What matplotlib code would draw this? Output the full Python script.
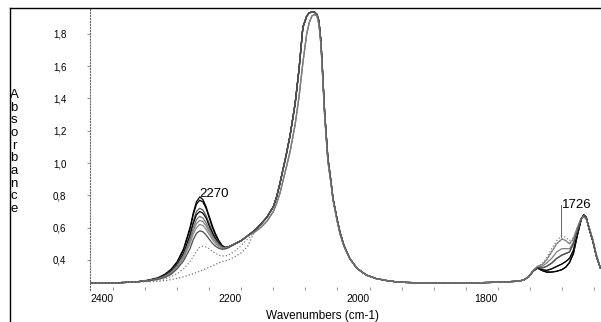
import matplotlib
matplotlib.use("Agg")
import matplotlib.pyplot as plt
from matplotlib.lines import Line2D
from matplotlib.ticker import MultipleLocator

plt.rcParams['font.family'] = ['Liberation Sans', 'DejaVu Sans']

# Baseline shared by every spectrum (cm-1 / absorbance)
wn_base = [2436, 2420, 2400, 2380, 2360]
a_base = [0.257, 0.257, 0.258, 0.261, 0.266]

# 2270 band region, one list per spectrum
wn_band = [2345, 2330, 2320, 2310, 2300, 2290, 2280, 2275, 2270, 2265, 2260,
           2255, 2250, 2245, 2240, 2235, 2230, 2225, 2220, 2210, 2200, 2190]
band_1 = [0.275, 0.29, 0.31, 0.34, 0.39, 0.47, 0.60, 0.69, 0.76, 0.79, 0.775,
          0.73, 0.67, 0.61, 0.56, 0.52, 0.49, 0.478, 0.482, 0.50, 0.52, 0.55]
band_2 = [0.274, 0.288, 0.305, 0.335, 0.385, 0.46, 0.59, 0.68, 0.745, 0.77, 0.76,
          0.72, 0.66, 0.60, 0.55, 0.515, 0.487, 0.477, 0.481, 0.50, 0.52, 0.55]
band_3 = [0.273, 0.286, 0.302, 0.33, 0.375, 0.445, 0.56, 0.64, 0.70, 0.72, 0.71,
          0.675, 0.625, 0.575, 0.535, 0.505, 0.483, 0.476, 0.48, 0.50, 0.52, 0.55]
band_4 = [0.273, 0.285, 0.30, 0.325, 0.37, 0.44, 0.55, 0.625, 0.68, 0.70, 0.69,
          0.66, 0.61, 0.565, 0.53, 0.50, 0.48, 0.475, 0.48, 0.50, 0.52, 0.55]
band_5 = [0.272, 0.284, 0.298, 0.322, 0.365, 0.43, 0.53, 0.60, 0.65, 0.67, 0.66,
          0.63, 0.59, 0.55, 0.52, 0.495, 0.478, 0.474, 0.48, 0.50, 0.52, 0.55]
band_6 = [0.272, 0.283, 0.296, 0.32, 0.36, 0.42, 0.515, 0.58, 0.625, 0.645, 0.638,
          0.612, 0.575, 0.54, 0.512, 0.49, 0.476, 0.473, 0.479, 0.50, 0.52, 0.55]
band_7 = [0.271, 0.282, 0.294, 0.316, 0.355, 0.41, 0.50, 0.56, 0.60, 0.62, 0.614,
          0.59, 0.557, 0.525, 0.50, 0.482, 0.472, 0.471, 0.478, 0.50, 0.52, 0.55]
band_8 = [0.27, 0.28, 0.29, 0.31, 0.345, 0.395, 0.47, 0.525, 0.565, 0.58, 0.575,
          0.555, 0.528, 0.503, 0.484, 0.472, 0.466, 0.468, 0.476, 0.498, 0.52, 0.548]
band_9 = [0.268, 0.275, 0.283, 0.295, 0.315, 0.345, 0.39, 0.42, 0.455, 0.478, 0.485,
          0.48, 0.468, 0.453, 0.44, 0.43, 0.425, 0.425, 0.43, 0.455, 0.49, 0.53]
band_10 = [0.265, 0.268, 0.272, 0.278, 0.286, 0.296, 0.308, 0.315, 0.322, 0.33, 0.338,
           0.346, 0.355, 0.364, 0.373, 0.382, 0.39, 0.395, 0.40, 0.42, 0.445, 0.485]

# Main band (~2090), dark and light traces
wn_main = [2180, 2170, 2160, 2150, 2145, 2140, 2135, 2130, 2124, 2116, 2110, 2104,
           2098, 2094, 2090, 2086, 2082, 2079, 2076, 2074, 2070, 2065, 2060, 2057,
           2050, 2046, 2040, 2031, 2020, 2010, 2004, 1990, 1970, 1952, 1920, 1880,
           1840, 1800, 1770]
main_dark = [0.58, 0.62, 0.665, 0.73, 0.79, 0.87, 0.96, 1.05, 1.17, 1.37, 1.58, 1.84,
             1.91, 1.93, 1.935, 1.935, 1.92, 1.88, 1.76, 1.62, 1.31, 1.03, 0.88, 0.78,
             0.64, 0.57, 0.49, 0.41, 0.35, 0.32, 0.305, 0.285, 0.27, 0.262, 0.258, 0.256,
             0.258, 0.262, 0.268]
main_light = [0.57, 0.60, 0.64, 0.70, 0.75, 0.81, 0.89, 0.97, 1.07, 1.24, 1.41, 1.62,
              1.80, 1.87, 1.91, 1.92, 1.91, 1.86, 1.74, 1.60, 1.29, 1.01, 0.87, 0.77,
              0.63, 0.56, 0.485, 0.41, 0.35, 0.32, 0.305, 0.285, 0.27, 0.262, 0.258, 0.256,
              0.258, 0.262, 0.268]

# 1726 / 1667 region
wn_tail = [1760, 1752, 1745, 1738, 1731, 1724, 1716, 1708, 1700, 1694, 1688, 1682,
           1676, 1670, 1666, 1662, 1658, 1652, 1646, 1640]
tail_low = [0.275, 0.295, 0.33, 0.35, 0.335, 0.325, 0.325, 0.33, 0.34, 0.355, 0.385,
            0.44, 0.55, 0.65, 0.68, 0.665, 0.60, 0.52, 0.42, 0.35]
tail_low2 = [0.275, 0.295, 0.332, 0.352, 0.34, 0.335, 0.345, 0.36, 0.375, 0.39, 0.41,
             0.46, 0.56, 0.65, 0.675, 0.66, 0.60, 0.52, 0.42, 0.35]
tail_mid = [0.275, 0.295, 0.33, 0.355, 0.35, 0.36, 0.38, 0.41, 0.43, 0.44, 0.45,
            0.50, 0.58, 0.655, 0.675, 0.66, 0.605, 0.525, 0.425, 0.35]
tail_mid2 = [0.275, 0.295, 0.333, 0.358, 0.36, 0.38, 0.41, 0.45, 0.47, 0.47, 0.47,
             0.51, 0.59, 0.655, 0.67, 0.655, 0.605, 0.525, 0.425, 0.35]
tail_high = [0.275, 0.295, 0.335, 0.36, 0.37, 0.40, 0.45, 0.50, 0.53, 0.52, 0.50,
             0.53, 0.60, 0.66, 0.67, 0.655, 0.61, 0.53, 0.43, 0.35]
tail_high2 = [0.275, 0.295, 0.336, 0.362, 0.375, 0.41, 0.47, 0.52, 0.55, 0.54, 0.52,
              0.54, 0.60, 0.655, 0.665, 0.65, 0.605, 0.53, 0.43, 0.35]

spectra = [
    (band_1, main_dark, tail_low, 'black', '-'),
    (band_2, main_dark, tail_low, 'black', '-'),
    (band_3, main_dark, tail_low2, '0.35', '-'),
    (band_4, main_dark, tail_low2, 'black', '-'),
    (band_5, main_dark, tail_mid, '0.45', '-'),
    (band_6, main_light, tail_mid2, '0.5', '-'),
    (band_7, main_light, tail_high, '0.55', '-'),
    (band_8, main_dark, tail_mid, '0.3', '-'),
    (band_9, main_light, tail_high2, '0.5', ':'),
    (band_10, main_light, tail_high, '0.45', ':'),
]

fig = plt.figure(figsize=(6.01, 3.22), dpi=100)
ax = fig.add_axes([90/601, 1-290/322, 511/601, 282/322])

for band, main, tail, col, ls in spectra:
    x = wn_base + wn_band + wn_main + wn_tail
    y = a_base + band + main + tail
    ax.plot(x, y, color=col, ls=ls, lw=0.9)

ax.set_xlim(2436, 1639)
ax.set_ylim(0.214, 1.96)

# annotations
ax.text(2265, 0.79, '2270', fontsize=9.5, ha='left', va='baseline')
ax.text(1700, 0.722, '1726', fontsize=9.5, ha='left', va='baseline')
ax.plot([1701, 1701], [0.54, 0.74], color='0.4', lw=0.7)

# axes styling
for s in ['top', 'right', 'bottom']:
    ax.spines[s].set_visible(False)
ax.spines['left'].set_linestyle(':')
ax.spines['left'].set_color('0.4')
ax.spines['left'].set_linewidth(0.8)

yt = [0.4, 0.6, 0.8, 1.0, 1.2, 1.4, 1.6, 1.8]
ax.set_yticks(yt)
ax.set_yticklabels(['0,4', '0,6', '0,8', '1,0', '1,2', '1,4', '1,6', '1,8'], fontsize=7)
ax.tick_params(axis='y', direction='out', length=2, width=0.6, color='0.5', pad=15)

ax.set_xticks([2400, 2200, 2000, 1800])
ax.set_xticklabels(['2400', '2200', '2000', '1800'], fontsize=7.5, ha='right')
ax.xaxis.set_minor_locator(MultipleLocator(50))
ax.tick_params(axis='x', which='both', direction='in', length=2.5, width=0.6,
               color='0.5', pad=3)

# vertical stacked y label and x label
fig.text(14/601, 1-152/322, '\n'.join('Absorbance'), fontsize=9.5, ha='center',
         va='center', linespacing=1.07)
fig.text(323/601, 3/322, 'Wavenumbers (cm-1)', fontsize=8.5, ha='center', va='baseline')

# frame lines on the left and top
fig.add_artist(Line2D([10/601, 10/601], [0, 1-8/322], transform=fig.transFigure,
                      color='black', lw=1))
fig.add_artist(Line2D([10/601, 1], [1-8/322, 1-8/322], transform=fig.transFigure,
                      color='black', lw=1))

fig.savefig('out.png', dpi=100)
